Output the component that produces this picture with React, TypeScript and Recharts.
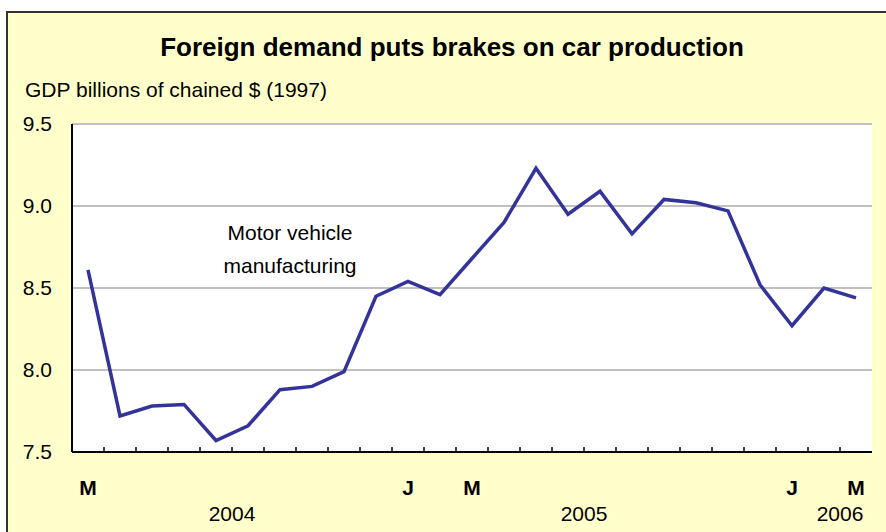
import React from 'react';
import { LineChart, Line, XAxis, YAxis, CartesianGrid } from 'recharts';

const months = [
  'Mar 2004', 'Apr 2004', 'May 2004', 'Jun 2004', 'Jul 2004', 'Aug 2004', 'Sep 2004', 'Oct 2004', 'Nov 2004', 'Dec 2004',
  'Jan 2005', 'Feb 2005', 'Mar 2005', 'Apr 2005', 'May 2005', 'Jun 2005', 'Jul 2005', 'Aug 2005', 'Sep 2005', 'Oct 2005', 'Nov 2005', 'Dec 2005',
  'Jan 2006', 'Feb 2006', 'Mar 2006',
];

const monthLetters = ['M', '', '', '', '', '', '', '', '', '', 'J', '', 'M', '', '', '', '', '', '', '', '', '', 'J', '', 'M'];

const yearLabels = ['', '', '', '', '2004', '', '', '', '', '', '', '', '', '', '', '2005', '', '', '', '', '', '', '', '2006', ''];

const motorVehicle = [
  8.61, 7.72, 7.78, 7.79, 7.57, 7.66, 7.88, 7.9, 7.99, 8.45,
  8.54, 8.46, 8.68, 8.9, 9.23, 8.95, 9.09, 8.83, 9.04, 9.02, 8.97, 8.52,
  8.27, 8.5, 8.44,
];

const yTicks = [7.5, 8.0, 8.5, 9.0, 9.5];

const data = months.map((m, i) => ({ month: m, value: motorVehicle[i] }));

const FONT = '"Liberation Sans", Arial, sans-serif';
const W = 886;
const H = 532;
const PLOT_LEFT = 72;
const PLOT_RIGHT = 872;
const HALF_STEP = (PLOT_RIGHT - PLOT_LEFT) / months.length / 2;

const XTick = (props: any) => {
  const { x, y, index } = props;
  return (
    <g>
      {index > 0 && (
        <line x1={x - HALF_STEP} x2={x - HALF_STEP} y1={y} y2={y - 5} stroke="#000" strokeWidth={1.5} />
      )}
      {monthLetters[index] && (
        <text x={x} y={y + 35} textAnchor="middle" dominantBaseline="central" fontFamily={FONT} fontSize={21} fontWeight="bold" fill="#000">
          {monthLetters[index]}
        </text>
      )}
      {yearLabels[index] && (
        <text x={x + HALF_STEP} y={y + 61} textAnchor="middle" dominantBaseline="central" fontFamily={FONT} fontSize={21} fill="#000">
          {yearLabels[index]}
        </text>
      )}
    </g>
  );
};

export default function App() {
  return (
    <div style={{ position: 'absolute', left: 0, top: 0, width: W, height: H, overflow: 'hidden', background: '#fff', fontFamily: FONT }}>
      <div
        style={{
          position: 'absolute',
          left: 6,
          top: 11,
          width: 920,
          height: 560,
          border: '2px solid #333',
          background: '#FFFFCC',
          boxSizing: 'border-box',
        }}
      />
      <div style={{ position: 'absolute', left: 0, width: 904, top: 32, lineHeight: '30px', fontSize: 26, fontWeight: 'bold', textAlign: 'center', color: '#000' }}>
        Foreign demand puts brakes on car production
      </div>
      <div style={{ position: 'absolute', left: 25, top: 78, lineHeight: '24px', fontSize: 21, color: '#000', whiteSpace: 'nowrap' }}>
        GDP billions of chained $ (1997)
      </div>
      <div style={{ position: 'absolute', left: 0, top: 0 }}>
        <LineChart width={W} height={H} data={data} margin={{ top: 124, right: W - PLOT_RIGHT, left: 0, bottom: 20 }}>
          <CartesianGrid vertical={false} stroke="#C0C0C0" strokeWidth={2} fill="#fff" fillOpacity={1} />
          <XAxis
            dataKey="month"
            height={60}
            padding={{ left: HALF_STEP, right: HALF_STEP }}
            interval={0}
            tickLine={false}
            tickSize={0}
            tickMargin={0}
            axisLine={{ stroke: '#000', strokeWidth: 2 }}
            tick={<XTick />}
          />
          <XAxis
            xAxisId="top"
            dataKey="month"
            orientation="top"
            height={0}
            tick={false}
            tickLine={false}
            padding={{ left: HALF_STEP, right: HALF_STEP }}
            axisLine={{ stroke: '#000', strokeWidth: 2 }}
          />
          <YAxis
            domain={[7.5, 9.5]}
            ticks={yTicks}
            width={PLOT_LEFT}
            tickLine={false}
            tickSize={0}
            tickMargin={20}
            tickFormatter={(v: number) => v.toFixed(1)}
            tick={{ fontSize: 21, fill: '#000', fontFamily: FONT }}
            axisLine={{ stroke: '#000', strokeWidth: 2 }}
          />
          <YAxis
            yAxisId="right"
            orientation="right"
            domain={[7.5, 9.5]}
            width={0}
            tick={false}
            tickLine={false}
            axisLine={{ stroke: '#000', strokeWidth: 2 }}
          />
          <Line
            type="linear"
            dataKey="value"
            stroke="#333399"
            strokeWidth={3.5}
            dot={false}
            isAnimationActive={false}
          />
        </LineChart>
      </div>
      <div style={{ position: 'absolute', left: 190, width: 200, top: 216, lineHeight: '33px', fontSize: 21, textAlign: 'center', color: '#000' }}>
        Motor vehicle
        <br />
        manufacturing
      </div>
    </div>
  );
}
